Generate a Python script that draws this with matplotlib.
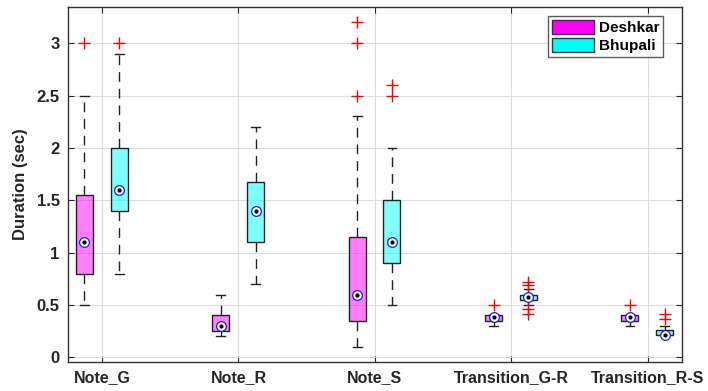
import matplotlib
matplotlib.use("Agg")
import matplotlib.pyplot as plt
from matplotlib.patches import Patch

categories = ["Note_G", "Note_R", "Note_S", "Transition_G-R", "Transition_R-S"]
series_names = ["Deshkar", "Bhupali"]

# per category: [whislo, q1, med, q3, whishi]
deshkar_stats = [
    [0.50, 0.80, 1.10, 1.55, 2.50],
    [0.20, 0.25, 0.30, 0.40, 0.60],
    [0.10, 0.35, 0.60, 1.15, 2.30],
    [0.30, 0.35, 0.39, 0.40, 0.40],
    [0.30, 0.35, 0.39, 0.40, 0.40],
]
deshkar_outliers = [[3.0], [], [2.5, 3.0, 3.2], [0.50], [0.50]]

bhupali_stats = [
    [0.80, 1.40, 1.60, 2.00, 2.90],
    [0.70, 1.10, 1.40, 1.67, 2.20],
    [0.50, 0.90, 1.10, 1.50, 2.00],
    [0.50, 0.55, 0.58, 0.60, 0.65],
    [0.21, 0.21, 0.21, 0.26, 0.30],
]
bhupali_outliers = [[3.0], [], [2.5, 2.6], [0.41, 0.46, 0.69, 0.72], [0.37, 0.41]]

yticks = [0, 0.5, 1, 1.5, 2, 2.5, 3]
ytick_labels = ["0", "0.5", "1", "1.5", "2", "2.5", "3"]

colors = ["#FF00FF", "#00FFFF"]
txt = "#262626"

plt.rcParams['font.family'] = ['Liberation Sans', 'DejaVu Sans']
plt.rcParams['font.weight'] = 'bold'

fig = plt.figure(figsize=(7.08, 3.91), dpi=100)
ax = fig.add_axes([0.096, 0.074, 0.867, 0.908])

def make_stats(stats, outs):
    res = []
    for s, o in zip(stats, outs):
        res.append(dict(whislo=s[0], q1=s[1], med=s[2], q3=s[3], whishi=s[4], fliers=o))
    return res

offsets = [-0.13, 0.125]
for k, (st, outs) in enumerate([(deshkar_stats, deshkar_outliers), (bhupali_stats, bhupali_outliers)]):
    pos = [i + 1 + offsets[k] for i in range(len(categories))]
    bx = ax.bxp(make_stats(st, outs), positions=pos, widths=0.125, patch_artist=True,
                showfliers=True, manage_ticks=False,
                boxprops=dict(facecolor=colors[k], edgecolor="#222222", linewidth=1.0),
                whiskerprops=dict(color="#222222", linestyle=(0, (7, 5)), linewidth=1.0),
                capprops=dict(color="#222222", linewidth=1.0),
                capwidths=0.065,
                medianprops=dict(linewidth=0),
                flierprops=dict(marker="+", markeredgecolor="red", markersize=9, linestyle="none", markeredgewidth=1.0))
    for b in bx['boxes']:
        b.set_facecolor(matplotlib.colors.to_rgba(colors[k], 0.5))
    meds = [s[2] for s in st]
    ax.plot(pos, meds, linestyle="none", marker="o", markersize=7, markerfacecolor="white",
            markeredgecolor="#1a1aff", markeredgewidth=0.9, zorder=5)
    ax.plot(pos, meds, linestyle="none", marker="o", markersize=2, markerfacecolor="black",
            markeredgecolor="black", zorder=6)

ax.set_xlim(0.75, 5.25)
ax.set_ylim(-0.045, 3.345)
ax.set_xticks(range(1, len(categories) + 1))
ax.set_xticklabels(categories, fontsize=11.5, fontweight="bold", color=txt)
ax.set_yticks(yticks)
ax.set_yticklabels(ytick_labels, fontsize=12, fontweight="bold", color=txt)
ax.set_ylabel("Duration (sec)", fontsize=12, fontweight="bold", color=txt, labelpad=6)
ax.grid(True, color="#dddddd", linewidth=0.8)
ax.set_axisbelow(True)
ax.tick_params(direction="in", length=4, color=txt, top=True, right=True, pad=6)
for sp in ax.spines.values():
    sp.set_color("#333333")
    sp.set_linewidth(1.0)

handles = [Patch(facecolor=colors[i], edgecolor="#333333", label=series_names[i]) for i in range(2)]
leg = ax.legend(handles=handles, loc="upper right", bbox_to_anchor=(0.97, 0.975),
                prop=dict(weight="bold", size=11), fancybox=False, edgecolor="#333333",
                handlelength=2.8, handleheight=1.1, handletextpad=0.3, borderpad=0.25,
                labelspacing=0.15, borderaxespad=0.0)
leg.get_frame().set_linewidth(1.0)

fig.savefig("out.png", dpi=100)
